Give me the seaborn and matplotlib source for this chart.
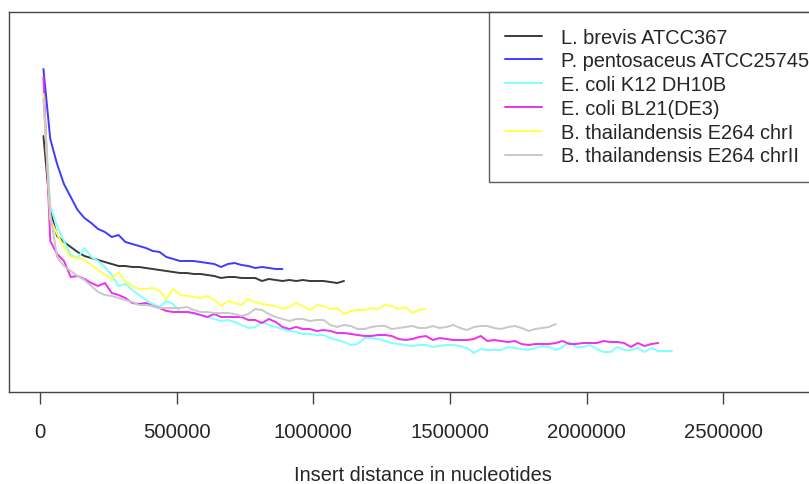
"""
Insert distance plot (R base-graphics look) redone with seaborn
"""
import numpy as np
import pandas as pd
import matplotlib
matplotlib.use("Agg")
import matplotlib.pyplot as plt
import seaborn as sns

# strains, in legend order
strains = ['L. brevis ATCC367', 'P. pentosaceus ATCC25745', 'E. coli K12 DH10B',
           'E. coli BL21(DE3)', 'B. thailandensis E264 chrI', 'B. thailandensis E264 chrII']
colors = ['#3a3a3a', '#3c3cff', '#80ffff', '#ee30ee', '#ffff50', '#c8c8c8']

# bin width in nucleotides, values are given per bin
bin_width = 25000

brevis = [256, 181, 156, 150, 145, 140, 136, 134, 132, 130, 128, 126, 126, 125, 125,
          124, 123, 122, 121, 120, 119, 119, 118, 118, 117, 116, 114, 115, 115, 114,
          114, 114, 111, 113, 112, 111, 112, 111, 112, 111, 111, 111, 110, 109, 111]

pentosaceus = [323, 253, 228, 208, 195, 182, 174, 169, 163, 160, 155, 157, 150, 148, 146,
               144, 141, 140, 135, 133, 131, 131, 131, 130, 129, 128, 125, 128, 129, 127,
               126, 124, 125, 124, 123, 123]

coli_k12 = [298, 186, 166, 151, 137, 134, 144, 135, 131, 125,
            117, 106, 108, 102, 97, 92, 88, 85, 91, 88,
            80, 80, 78, 77, 75, 73, 71, 72, 70, 67,
            64, 65, 70, 67, 65, 63, 61, 60, 58, 58,
            57, 57, 54, 52, 50, 47, 48, 54, 54, 53,
            51, 49, 48, 47, 46, 47, 47, 45, 46, 47,
            47, 46, 44, 39, 43, 42, 42, 42, 45, 44,
            43, 42, 44, 46, 45, 42, 45, 50, 45, 45,
            47, 43, 40, 40, 45, 42, 42, 44, 40, 44,
            41, 41, 41]

coli_bl21 = [315, 151, 138, 131, 115, 116, 113, 109, 106, 109,
             99, 97, 94, 89, 88, 89, 86, 84, 81, 80,
             80, 80, 79, 77, 75, 78, 75, 75, 75, 75,
             72, 72, 69, 73, 70, 65, 63, 65, 63, 63,
             61, 62, 61, 59, 59, 58, 57, 56, 56, 57,
             57, 56, 53, 52, 53, 55, 56, 52, 54, 53,
             52, 52, 52, 53, 56, 51, 52, 51, 50, 51,
             48, 47, 48, 48, 48, 49, 51, 48, 48, 49,
             49, 49, 51, 50, 50, 49, 45, 49, 46, 48, 49]

thai_chr1 = [298, 173, 158, 145, 135, 134, 132, 127, 122, 117,
             113, 120, 110, 106, 103, 103, 104, 101, 93, 103,
             97, 96, 95, 94, 96, 92, 86, 91, 89, 87,
             93, 90, 88, 87, 86, 83, 85, 89, 86, 82,
             87, 86, 83, 84, 78, 81, 82, 82, 84, 83,
             87, 86, 83, 85, 79, 82, 83]

thai_chr2 = [293, 178, 135, 126, 121, 116, 112, 106, 100, 97,
             96, 94, 92, 90, 87, 87, 86, 84, 84, 84,
             84, 85, 82, 80, 80, 79, 79, 79, 78, 76,
             78, 83, 82, 78, 75, 73, 71, 73, 73, 71,
             72, 72, 67, 65, 67, 66, 63, 63, 65, 66,
             66, 63, 64, 65, 66, 64, 64, 66, 64, 65,
             67, 64, 62, 65, 66, 66, 64, 63, 65, 66,
             64, 61, 63, 64, 65, 68]

series = [brevis, pentosaceus, coli_k12, coli_bl21, thai_chr1, thai_chr2]

xticks = [0, 500000, 1000000, 1500000, 2000000, 2500000]

sns.set_theme(style='white')
plt.rcParams['font.family'] = ['Liberation Sans', 'DejaVu Sans']

# long table for seaborn
frames = []
for name, vals in zip(strains, series):
    frames.append(pd.DataFrame({
        'distance': bin_width / 2 + bin_width * np.arange(len(vals)),
        'value': vals,
        'strain': name,
    }))
df = pd.concat(frames, ignore_index=True)

fig = plt.figure(figsize=(8.09, 4.85), dpi=100)
# plot region runs past the right edge of the picture (cropped R plot)
ax = fig.add_axes([9 / 809, 92 / 485, 827 / 809, 380.5 / 485])

sns.lineplot(data=df, x='distance', y='value', hue='strain', hue_order=strains,
             palette=colors, estimator=None, sort=False, linewidth=1.4, ax=ax)

ax.set_xlim(-113500, 2913000)
ax.set_ylim(0, 380.5)
ax.set_xticks(xticks)
ax.set_xticklabels([str(t) for t in xticks])
ax.set_yticks([])
ax.set_ylabel('')
ax.set_xlabel('Insert distance in nucleotides', fontsize=14.4, labelpad=17.5)
ax.tick_params(axis='x', bottom=True, direction='out', length=8.6, width=1.0,
               color='#444444', labelsize=14.6, pad=13)

for sp in ax.spines.values():
    sp.set_visible(True)
    sp.set_color('#444444')
    sp.set_linewidth(1.0)

# legend box starts at x=489 px and runs off the right edge, like the cropped original
handles, labels = ax.get_legend_handles_labels()
leg = ax.legend(handles, labels, loc='upper left', bbox_to_anchor=((489 - 9) / 827, 1),
                borderaxespad=0, fontsize=14.4, frameon=True, fancybox=False,
                handlelength=1.85, handletextpad=0.95, borderpad=0.8,
                labelspacing=0.24)
leg.get_frame().set_edgecolor('#333333')
leg.get_frame().set_linewidth(1.0)

plt.savefig('out.png', dpi=100)
plt.close()
